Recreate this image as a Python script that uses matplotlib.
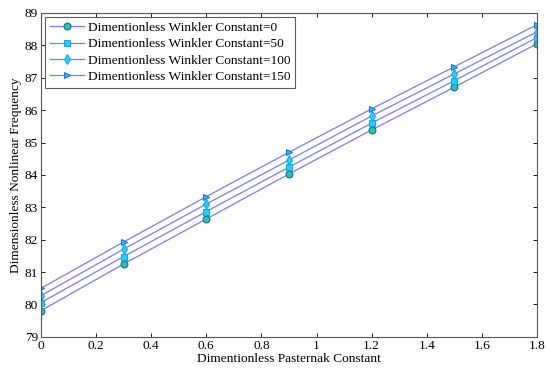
import numpy as np
import matplotlib
matplotlib.use('Agg')
import matplotlib.pyplot as plt

plt.rcParams['font.family'] = ['Liberation Serif', 'DejaVu Serif']
plt.rcParams['font.size'] = 9.6
plt.rcParams['xtick.direction'] = 'in'
plt.rcParams['ytick.direction'] = 'in'

pasternak = [0, 0.3, 0.6, 0.9, 1.2, 1.5, 1.8]
freq_k0 = [79.81, 81.25, 82.64, 84.03, 85.39, 86.71, 88.05]
freq_k50 = [80.06, 81.48, 82.87, 84.24, 85.60, 86.91, 88.24]
freq_k100 = [80.27, 81.71, 83.10, 84.46, 85.82, 87.12, 88.42]
freq_k150 = [80.50, 81.93, 83.33, 84.70, 86.04, 87.34, 88.64]
labels = ['Dimentionless Winkler Constant=0', 'Dimentionless Winkler Constant=50',
          'Dimentionless Winkler Constant=100', 'Dimentionless Winkler Constant=150']

fig = plt.figure(figsize=(5.46, 3.71), dpi=100)
ax = fig.add_axes([0.075, 0.092, 0.9085, 0.873])

line_c = '#7a7aff'
ax.plot(pasternak, freq_k0, '-o', color=line_c, lw=0.9, ms=5, mfc='#18c8c0', mec='#206060', mew=0.7, label=labels[0])
ax.plot(pasternak, freq_k50, '-s', color=line_c, lw=0.9, ms=5, mfc='#00e0ff', mec='#3090ff', mew=0.7, label=labels[1])
ax.plot(pasternak, freq_k100, '-d', color=line_c, lw=0.9, ms=5, mfc='#00e0ff', mec='#3090ff', mew=0.7, label=labels[2])
ax.plot(pasternak, freq_k150, '->', color=line_c, lw=0.9, ms=5, mfc='#00d0ff', mec='#2060ff', mew=0.7, label=labels[3])

ax.set_xlim(0, 1.8)
ax.set_ylim(79, 89)
ax.set_xticks(np.arange(0, 1.81, 0.2))
ax.set_xticklabels(['0', '0.2', '0.4', '0.6', '0.8', '1', '1.2', '1.4', '1.6', '1.8'])
ax.set_yticks(range(79, 90))
ax.tick_params(top=True, right=True, length=3, width=0.6, labelsize=9.6, pad=2)
for s in ax.spines.values():
    s.set_color('#555555')
    s.set_linewidth(0.8)

ax.set_xlabel('Dimentionless Pasternak Constant', fontsize=9.6, labelpad=1)
ax.set_ylabel('Dimensionless Nonlinear Frequency', fontsize=9.6, labelpad=2)

leg = ax.legend(loc='upper left', fontsize=9.6, fancybox=False, edgecolor='#333333',
                handlelength=2.6, borderpad=0.35, labelspacing=0.3, handletextpad=0.3,
                borderaxespad=0.3)
leg.get_frame().set_linewidth(0.8)

fig.savefig('out.png', dpi=100)
